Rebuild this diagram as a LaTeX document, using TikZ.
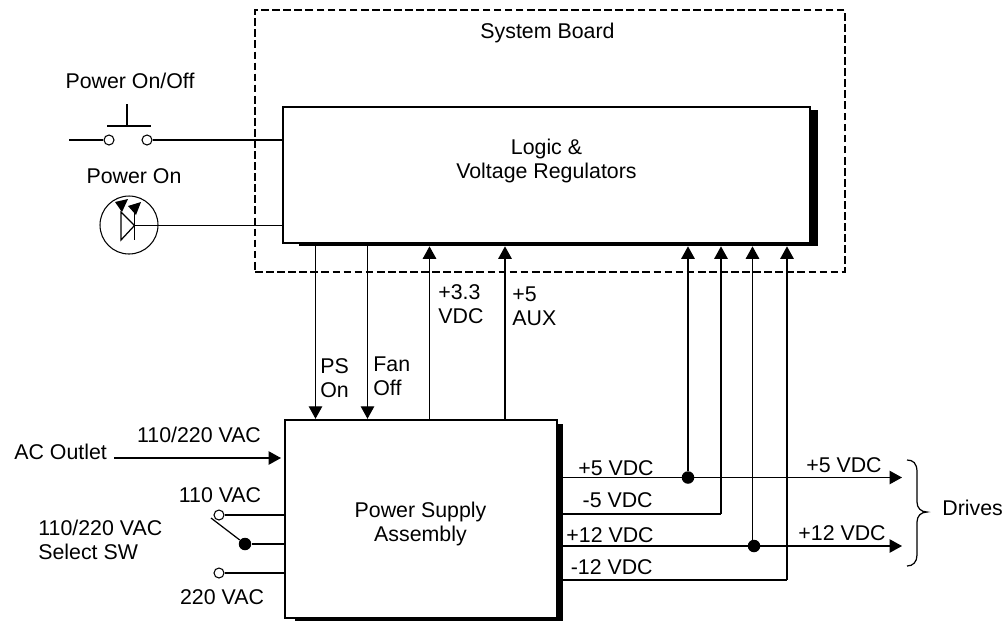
\documentclass[tikz,border=0pt]{standalone}
\usepackage{fontspec}
\setmainfont{Liberation Sans}
\usetikzlibrary{arrows.meta}
\tikzset{
  wire/.style={line width=0.7pt},
  feed/.style={wire, -{Triangle[length=0.25cm,width=0.27cm]}},
  blockbox/.style={draw, fill=white, line width=1.4pt, inner sep=0pt},
  shadowbox/.style={fill=black, inner sep=0pt},
  terminal/.style={circle, draw, line width=0.6pt, fill=white, inner sep=0pt, minimum size=0.2cm},
  junction/.style={circle, fill=black, inner sep=0pt, minimum size=0.25cm},
  label/.style={align=left, inner sep=0pt}
}
\begin{document}
\begin{tikzpicture}[x=0.02cm, y=-0.02cm, every node/.style={font=\fontsize{12.15}{13.4}\selectfont}]
\useasboundingbox (0,0) rectangle (1004,620);
% system board
\node[draw, line width=1.1pt, dash pattern=on 4.4pt off 1.9pt, inner sep=0pt, minimum width=11.8cm, minimum height=5.24cm] (board) at (550,141) {};
\node[label] (boardlabel) at (547.5,33) {System Board};
% blocks
\node[shadowbox, minimum width=10.38cm, minimum height=2.72cm] (logicshadow) at (558.5,178) {};
\node[blockbox, minimum width=10.54cm, minimum height=2.72cm] (logic) at (546.5,175) {};
\node[label, align=center] (logiclabel) at (546.5,161) {Logic \&\\Voltage Regulators};
\node[shadowbox, minimum width=5.36cm, minimum height=3.94cm] (supplyshadow) at (429,522.5) {};
\node[blockbox, minimum width=5.44cm, minimum height=3.96cm] (supply) at (421,519) {};
\node[label, align=center] (supplylabel) at (420.5,524) {Power Supply\\Assembly};
% power switch
\node[label] (switchlabel) at (130,81) {Power On/Off};
\coordinate (switchin) at (69,140);
\node[terminal] (switcha) at (109,140) {};
\node[terminal] (switchb) at (147,140) {};
\coordinate (plungerl) at (107,126);
\coordinate (plungerr) at (151,126);
\coordinate (plungerm) at (127,126);
\coordinate (plungert) at (127,104);
\coordinate (switchfat) at (169,140);
\coordinate (switchfatb) at (213,140);
\draw[wire] (switchin) -- (switcha);
\draw[wire] (switchb) -- (switchb -| logic.west);
\draw[wire] (plungerl) -- (plungerr);
\draw[wire] (plungerm) -- (plungert);
\draw[line width=1.1pt] (switchfat) -- (switchfatb);
% power led
\node[label] (ledlabel) at (134,176) {Power On};
\node[circle, draw, line width=0.6pt, inner sep=0pt, minimum size=1.16cm] (led) at (129,225) {};
\coordinate (ledt) at (121,212);
\coordinate (ledb) at (121,240);
\coordinate (ledm) at (134.5,225.5);
\coordinate (barl) at (134.5,212);
\coordinate (bar2) at (134.5,240);
\coordinate (ledfat) at (171,225.5);
\coordinate (ledfatb) at (181,225.5);
\draw[wire] (ledt) -- (ledb) -- (ledm) -- cycle;
\draw[wire] (barl) -- (bar2);
\draw[wire] (ledm) -- (ledm -| logic.west);
\draw[line width=1.1pt] (ledfat) -- (ledfatb);
\fill (115,202) -- (128,199) -- (122,212) -- cycle;
\fill (128,206) -- (141,202) -- (136,215) -- cycle;
% supply to logic
\coordinate (pson) at (315.5,300);
\coordinate (fanoff) at (367.5,300);
\coordinate (vthree) at (429.5,300);
\coordinate (aux) at (505,300);
\draw[feed] (logicshadow.south -| pson) -- (supply.north -| pson);
\draw[feed] (logicshadow.south -| fanoff) -- (supply.north -| fanoff);
\draw[feed] (supply.north -| vthree) -- (logicshadow.south -| vthree);
\draw[feed] (supply.north -| aux) -- (logicshadow.south -| aux);
\node[label, anchor=west] (psonlabel) at (320,378) {PS\\On};
\node[label, anchor=west] (fanofflabel) at (373,376) {Fan\\Off};
\node[label, anchor=west] (vthreelabel) at (438,304) {+3.3\\VDC};
\node[label, anchor=west] (auxlabel) at (512,306) {+5\\AUX};
% ac input
\coordinate (acin) at (114,458);
\draw[feed] (acin) -- (281,458);
\node[label, anchor=west] (aclabel) at (14,452) {AC Outlet};
\node[label] (acvolts) at (199,435) {110/220 VAC};
% select switch
\node[terminal] (sela) at (219,515) {};
\node[terminal] (selb) at (219,573) {};
\node[junction] (selc) at (245,544) {};
\coordinate (blade) at (211,518);
\draw[wire] (sela) -- (sela -| supply.west);
\draw[wire] (selb) -- (selb -| supply.west);
\draw[wire] (selc) -- (selc -| supply.west);
\draw[wire] (blade) -- (selc);
\node[label] (sellabela) at (220,495) {110 VAC};
\node[label] (sellabelb) at (222,597) {220 VAC};
\node[label, anchor=west] (sellabel) at (38,540) {110/220 VAC\\Select SW};
% dc outputs
\node[junction] (dota) at (688,477.5) {};
\node[junction] (dotb) at (754,546) {};
\coordinate (fivea) at (902,477.5);
\coordinate (twelvea) at (902,546);
\coordinate (fiveb) at (721,514);
\coordinate (twelveb) at (787,580);
\coordinate (twelvec) at (752.5,546);
\draw[feed] (supplyshadow.east |- dota) -- (fivea);
\draw[feed] (supplyshadow.east |- dotb) -- (twelvea);
\draw[wire] (supplyshadow.east |- fiveb) -- (fiveb);
\draw[wire] (supplyshadow.east |- twelveb) -- (twelveb);
\draw[feed] (dota) -- (logicshadow.south -| dota);
\draw[feed] (fiveb) -- (logicshadow.south -| fiveb);
\draw[feed] (twelvec) -- (logicshadow.south -| twelvec);
\draw[feed] (twelveb) -- (logicshadow.south -| twelveb);
\node[label, anchor=east] (labela) at (654,468) {+5 VDC};
\node[label, anchor=east] (labelb) at (653,500) {-5 VDC};
\node[label, anchor=east] (labelc) at (654,535) {+12 VDC};
\node[label, anchor=east] (labeld) at (653,567) {-12 VDC};
\node[label, anchor=east] (labele) at (882,465) {+5 VDC};
\node[label, anchor=east] (labelf) at (886,533) {+12 VDC};
% drives
\coordinate (bracea) at (907,460);
\coordinate (braceb) at (907,566);
\draw[wire] (bracea) .. controls (913,460) and (917,463) .. (917,472) -- (917,502) .. controls (917,508) and (921,512) .. (927,512) .. controls (921,512) and (917,516) .. (917,522) -- (917,555) .. controls (917,562) and (913,566) .. (braceb);
\node[label, anchor=west] (drives) at (942,508) {Drives};
\end{tikzpicture}
\end{document}
